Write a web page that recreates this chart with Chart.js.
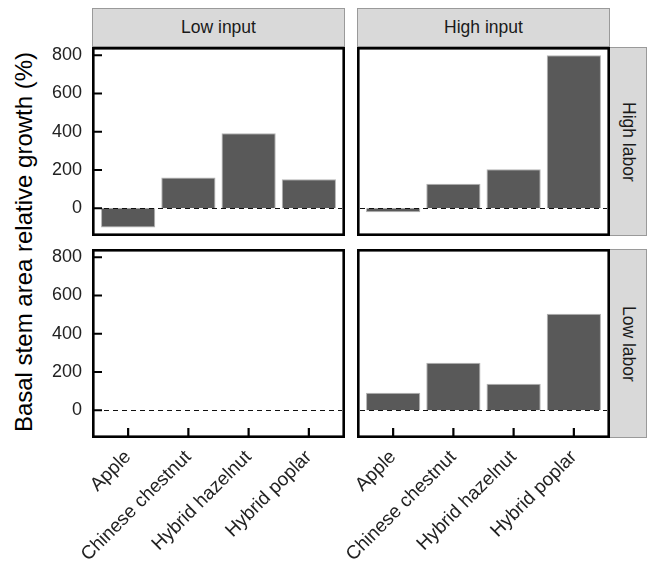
<!DOCTYPE html>
<html>
<head>
<meta charset="utf-8">
<script src="https://cdn.jsdelivr.net/npm/chart.js@4.4.0/dist/chart.umd.min.js"></script>
<style>
  body { margin: 0; background: #fff; }
  #wrap { position: relative; width: 653px; height: 563px; overflow: hidden; font-family: "Liberation Sans", Arial, sans-serif; }
  canvas { position: absolute; }
  .strip { position: absolute; box-sizing: border-box; background: #d9d9d9; border: 1px solid #9a9a9a; color: #1a1a1a; font-size: 17.5px; display: flex; align-items: center; justify-content: center; }
  .strip.side { writing-mode: vertical-rl; }
  #ytitle { position: absolute; width: 440px; height: 30px; line-height: 30px; left: -196px; top: 227px; text-align: center; font-size: 24px; color: #000; transform: rotate(-90deg); white-space: nowrap; }
</style>
</head>
<body>
<div id="wrap">
  <div id="ytitle">Basal stem area relative growth (%)</div>
  <div class="strip" style="left:92px;top:8px;width:253px;height:39px;">Low input</div>
  <div class="strip" style="left:357px;top:8px;width:253px;height:39px;">High input</div>
  <div class="strip side" style="left:609px;top:47px;width:38px;height:189px;">High labor</div>
  <div class="strip side" style="left:609px;top:249px;width:38px;height:189px;">Low labor</div>
  <canvas id="c1" width="313" height="189" style="left:32px;top:47px;"></canvas>
  <canvas id="c2" width="313" height="189" style="left:297px;top:47px;"></canvas>
  <canvas id="c3" width="313" height="314" style="left:32px;top:249px;"></canvas>
  <canvas id="c4" width="313" height="314" style="left:297px;top:249px;"></canvas>
</div>
<script>
// data
const species = ['Apple', 'Chinese chestnut', 'Hybrid hazelnut', 'Hybrid poplar'];
const highLaborLowInput = [-101, 161, 392, 152];
const highLaborHighInput = [-21, 128, 204, 800];
const lowLaborLowInput = [null, null, null, null];
const lowLaborHighInput = [92, 249, 139, 504];
const yTicks = [0, 200, 400, 600, 800];

const yMin = -145, yMax = 843;
const axisLeft = 60;
const fontFamily = 'Liberation Sans, Arial, sans-serif';

Chart.defaults.font.family = fontFamily;
Chart.defaults.font.size = 16;

// zero line, inside tick marks and the black frame
const panelDeco = {
  id: 'panelDeco',
  afterDatasetsDraw(chart, args, opts) {
    const { ctx, chartArea: a, scales } = chart;
    ctx.save();
    const y0 = Math.round(scales.y.getPixelForValue(0)) + 0.5;
    ctx.beginPath();
    ctx.setLineDash([5, 4]);
    ctx.strokeStyle = '#111';
    ctx.lineWidth = 1;
    ctx.moveTo(a.left + 3, y0);
    ctx.lineTo(a.right - 3, y0);
    ctx.stroke();
    ctx.setLineDash([]);

    ctx.strokeStyle = '#000';
    ctx.lineWidth = 2.2;
    ctx.beginPath();
    if (opts.yTicks) {
      scales.y.ticks.forEach((t, i) => {
        const py = scales.y.getPixelForTick(i);
        ctx.moveTo(a.left, py);
        ctx.lineTo(a.left + 10, py);
      });
    }
    if (opts.xTicks) {
      scales.x.ticks.forEach((t, i) => {
        const px = scales.x.getPixelForTick(i);
        ctx.moveTo(px, a.bottom);
        ctx.lineTo(px, a.bottom - 10);
      });
    }
    ctx.stroke();

    ctx.lineWidth = 2.6;
    ctx.strokeRect(a.left + 1.3, a.top + 1.3, a.right - a.left - 2.6, a.bottom - a.top - 2.6);
    ctx.restore();
  }
};

function makePanel(id, values, showY, showX) {
  return new Chart(document.getElementById(id), {
    type: 'bar',
    data: {
      datasets: [{
        data: values.map((v, i) => ({ x: i + 1, y: v })).filter(d => d.y !== null),
        backgroundColor: '#595959',
        borderColor: '#b3b3b3',
        borderWidth: 1,
        barPercentage: 0.9,
        categoryPercentage: 1
      }]
    },
    options: {
      responsive: false,
      animation: false,
      events: [],
      layout: { padding: 0 },
      plugins: {
        legend: { display: false },
        tooltip: { enabled: false },
        panelDeco: { yTicks: showY, xTicks: showX }
      },
      scales: {
        x: {
          type: 'linear',
          min: 0.4,
          max: 4.6,
          offset: false,
          display: showX,
          afterBuildTicks: s => { s.ticks = species.map((n, i) => ({ value: i + 1 })); },
          afterFit: s => {
            if (showX) s.height = 125;
            s.paddingLeft = 0;
            s.paddingRight = 0;
          },
          grid: { display: false, drawTicks: false },
          border: { display: false },
          ticks: {
            autoSkip: false,
            maxRotation: 45,
            minRotation: 45,
            padding: 8,
            color: '#222',
            font: { family: fontFamily, size: 19 },
            callback: v => species[v - 1]
          }
        },
        y: {
          type: 'linear',
          min: yMin,
          max: yMax,
          afterBuildTicks: s => { s.ticks = yTicks.map(v => ({ value: v })); },
          afterFit: s => {
            s.width = axisLeft;
            s.paddingTop = 0;
            s.paddingBottom = 0;
          },
          grid: { display: false, drawTicks: false },
          border: { display: false },
          ticks: {
            display: showY,
            autoSkip: false,
            padding: 10,
            color: '#222',
            font: { family: fontFamily, size: 18 }
          }
        }
      }
    },
    plugins: [panelDeco]
  });
}

makePanel('c1', highLaborLowInput, true, false);
makePanel('c2', highLaborHighInput, false, false);
makePanel('c3', lowLaborLowInput, true, true);
makePanel('c4', lowLaborHighInput, false, true);
</script>
</body>
</html>
